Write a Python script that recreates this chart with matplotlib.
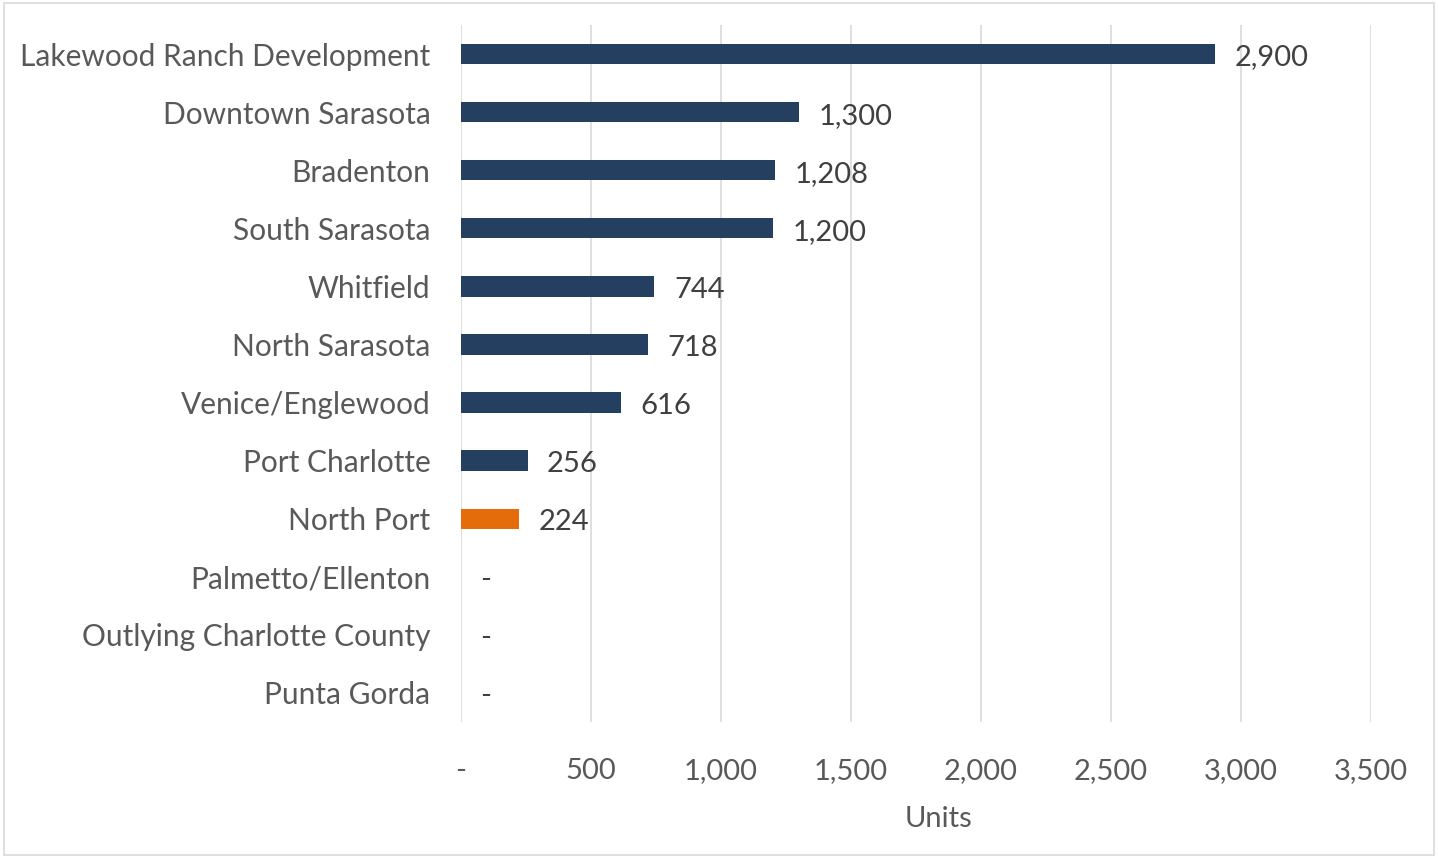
import matplotlib.pyplot as plt
import matplotlib.ticker as mticker

plt.rcParams['font.family'] = ['Lato', 'DejaVu Sans']

# Datos
zonas = ['Lakewood Ranch Development', 'Downtown Sarasota', 'Bradenton',
         'South Sarasota', 'Whitfield', 'North Sarasota', 'Venice/Englewood',
         'Port Charlotte', 'North Port', 'Palmetto/Ellenton',
         'Outlying Charlotte County', 'Punta Gorda']
unidades = [2900, 1300, 1208, 1200, 744, 718, 616, 256, 224, 0, 0, 0]
resaltado = 'North Port'

azul = '#243f60'
naranja = '#e46c0a'
colores = [naranja if z == resaltado else azul for z in zonas]

fig = plt.figure(figsize=(14.38, 8.58), dpi=100)
ax = fig.add_axes([0.3206, 0.1585, 0.6328, 0.8124])

y = list(range(len(zonas)))
ax.barh(y, unidades, height=0.35, color=colores, zorder=3)
ax.set_ylim(len(zonas) - 0.5, -0.5)
ax.set_xlim(0, 3500)

for yi, v in zip(y, unidades):
    txt = f'{v:,}' if v else '-'
    ax.text(v + 75, yi + 0.06, txt, va='center', ha='left',
            fontsize=21, color='#404040')

ax.set_yticks(y)
ax.set_yticklabels(zonas, fontsize=21.5, color='#595959')
ax.set_xticks(range(0, 3501, 500))
ax.xaxis.set_major_formatter(mticker.FuncFormatter(lambda v, p: f'{int(v):,}' if v else '-'))
ax.tick_params(axis='x', labelsize=21, labelcolor='#595959', length=0, pad=26)
ax.tick_params(axis='y', length=0, pad=22)
ax.grid(axis='x', color='#d9d9d9', linewidth=1.2, zorder=0)
for s in ax.spines.values():
    s.set_visible(False)
ax.set_xlabel('Units', fontsize=21, color='#595959')
ax.xaxis.set_label_coords(0.525, -0.12)

# Borde del gráfico
fig.patches.append(plt.Rectangle((0.003, 0.003), 0.994, 0.994, transform=fig.transFigure,
                                 fill=False, edgecolor='#d9d9d9', linewidth=1.2))

fig.savefig('out.png', dpi=100)
